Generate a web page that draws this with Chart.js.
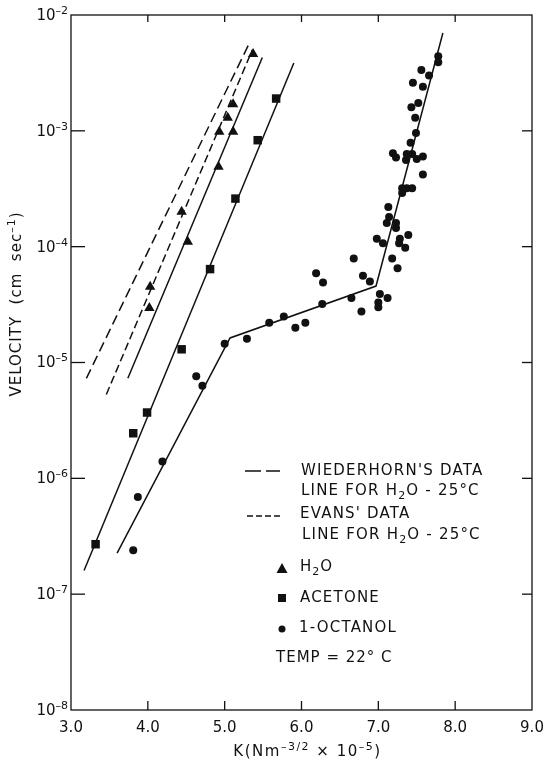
<!DOCTYPE html>
<html>
<head>
<meta charset="utf-8">
<script src="https://cdn.jsdelivr.net/npm/chart.js@4.4.1/dist/chart.umd.min.js"></script>
<style>
  html, body { margin: 0; background: #fff; }
</style>
</head>
<body>
<canvas id="chart" width="547" height="767"></canvas>
<script>
// Crack velocity vs stress intensity
const xTicks = [3, 4, 5, 6, 7, 8, 9];
const yTicks = [-2, -3, -4, -5, -6, -7, -8];

const h2oK = [5.37, 5.11, 5.04, 4.93, 5.11, 4.92, 4.44, 4.52, 4.03, 4.02];
const h2oV = [4.6e-3, 1.7e-3, 1.3e-3, 9.8e-4, 9.8e-4, 4.9e-4, 2.0e-4, 1.1e-4, 4.5e-5, 2.95e-5];

const acetoneK = [5.67, 5.43, 5.14, 4.81, 4.44, 3.99, 3.81, 3.32];
const acetoneV = [1.9e-3, 8.3e-4, 2.6e-4, 6.4e-5, 1.3e-5, 3.7e-6, 2.45e-6, 2.7e-7];

const octanolK = [3.81, 3.87, 4.19, 4.63, 4.71, 5.00, 5.29, 5.58, 5.77, 5.92, 6.05, 6.19, 6.27, 6.28,
  6.65, 6.68, 6.78, 6.80, 6.89, 6.98, 7.00, 7.00, 7.02, 7.06, 7.11, 7.12, 7.13, 7.14, 7.18, 7.19,
  7.23, 7.23, 7.23, 7.25, 7.27, 7.28, 7.31, 7.31, 7.35, 7.36, 7.37, 7.37, 7.39, 7.42, 7.43, 7.44,
  7.44, 7.45, 7.48, 7.49, 7.50, 7.52, 7.56, 7.58, 7.58, 7.58, 7.66, 7.78, 7.78];
const octanolV = [2.4e-7, 6.9e-7, 1.4e-6, 7.6e-6, 6.3e-6, 1.45e-5, 1.6e-5, 2.2e-5, 2.5e-5, 2.0e-5, 2.2e-5, 5.9e-5, 3.2e-5, 4.9e-5,
  3.6e-5, 7.9e-5, 2.75e-5, 5.6e-5, 5.0e-5, 1.17e-4, 3.3e-5, 3.0e-5, 3.9e-5, 1.07e-4, 1.6e-4, 3.6e-5, 2.2e-4, 1.8e-4, 7.9e-5, 6.4e-4,
  5.9e-4, 1.6e-4, 1.45e-4, 6.5e-5, 1.07e-4, 1.17e-4, 3.2e-4, 2.9e-4, 9.8e-5, 5.6e-4, 6.3e-4, 3.2e-4, 1.26e-4, 7.9e-4, 1.6e-3, 6.3e-4,
  3.2e-4, 2.6e-3, 1.3e-3, 9.6e-4, 5.7e-4, 1.74e-3, 3.35e-3, 2.4e-3, 6.0e-4, 4.2e-4, 3.0e-3, 4.4e-3, 3.9e-3];

// fitted lines
const wiederhornK = [3.20, 5.32];
const wiederhornV = [7.3e-6, 5.7e-3];
const evansK = [3.46, 5.36];
const evansV = [5.3e-6, 5.0e-3];
const h2oFitK = [3.74, 5.49];
const h2oFitV = [7.3e-6, 4.3e-3];
const acetoneFitK = [3.17, 5.90];
const acetoneFitV = [1.6e-7, 3.85e-3];
const octanolFitK = [3.60, 5.07, 6.97, 7.84];
const octanolFitV = [2.26e-7, 1.63e-5, 4.57e-5, 7.0e-3];

const INK = '#111';
const FONT = '"DejaVu Sans", sans-serif';

function pts(xs, ys) {
  return xs.map((x, i) => ({ x: x, y: ys[i] }));
}

function fitLine(xs, ys, dash) {
  return {
    data: pts(xs, ys),
    showLine: true,
    borderColor: INK,
    borderWidth: 1.5,
    borderDash: dash,
    pointRadius: 0,
    fill: false
  };
}

function marks(xs, ys, style, r) {
  return {
    data: pts(xs, ys),
    pointStyle: style,
    pointRadius: r,
    pointBackgroundColor: INK,
    pointBorderColor: INK,
    pointBorderWidth: 0,
    showLine: false
  };
}

// text with super/subscripts: parts are [text, kind] (0 normal, 1 sup, 2 sub)
function rich(ctx, parts, x, y, align, spacing) {
  const fonts = ['15px ' + FONT, '11px ' + FONT, '11px ' + FONT];
  const dy = [0, -5, 5];
  ctx.letterSpacing = (spacing || 0) + 'px';
  let w = 0;
  parts.forEach(p => { ctx.font = fonts[p[1]]; w += ctx.measureText(p[0]).width; });
  let cx = align === 'right' ? x - w : align === 'center' ? x - w / 2 : x;
  ctx.textAlign = 'left';
  ctx.textBaseline = 'middle';
  parts.forEach(p => {
    ctx.font = fonts[p[1]];
    ctx.fillText(p[0], cx, y + dy[p[1]]);
    cx += ctx.measureText(p[0]).width;
  });
  ctx.letterSpacing = '0px';
}

function seg(ctx, x1, y1, x2, y2) {
  ctx.beginPath();
  ctx.moveTo(x1, y1);
  ctx.lineTo(x2, y2);
  ctx.stroke();
}

const frame = {
  id: 'frame',
  afterDraw(chart) {
    const ctx = chart.ctx;
    const a = chart.chartArea;
    const xs = chart.scales.x, ys = chart.scales.y;
    ctx.save();
    ctx.strokeStyle = INK;
    ctx.fillStyle = INK;
    ctx.lineWidth = 1.3;
    ctx.strokeRect(a.left, a.top, a.right - a.left, a.bottom - a.top);

    // x ticks and labels
    xTicks.forEach(v => {
      const px = xs.getPixelForValue(v);
      if (v > xTicks[0] && v < xTicks[xTicks.length - 1]) {
        seg(ctx, px, a.bottom, px, a.bottom - 9);
        seg(ctx, px, a.top, px, a.top + 7);
      }
      rich(ctx, [[v.toFixed(1), 0]], px, a.bottom + 18, 'center');
    });

    // y ticks and labels (decades)
    yTicks.forEach(e => {
      const py = ys.getPixelForValue(Math.pow(10, e));
      if (e < yTicks[0] && e > yTicks[yTicks.length - 1]) {
        seg(ctx, a.left, py, a.left + 14, py);
        seg(ctx, a.right, py, a.right - 10, py);
      }
      rich(ctx, [['10', 0], ['\u2013' + (-e), 1]], a.left - 3, py + 1, 'right');
    });

    // axis titles
    rich(ctx, [['K(Nm', 0], ['\u2013' + '3/2', 1], [' \u00d7 10', 0], ['\u20135', 1], [')', 0]],
      (a.left + a.right) / 2 + 6, a.bottom + 42, 'center', 1.5);
    ctx.save();
    ctx.translate(17, 304);
    ctx.rotate(-Math.PI / 2);
    rich(ctx, [['VELOCITY  (cm  sec', 0], ['\u20131', 1], [')', 0]], 0, 0, 'center', 1);
    ctx.restore();

    // legend
    ctx.lineWidth = 1.5;
    ctx.setLineDash([16, 5]);
    seg(ctx, 245, 471, 280, 471);
    ctx.setLineDash([6, 3]);
    seg(ctx, 247, 516, 280, 516);
    ctx.setLineDash([]);
    rich(ctx, [["WIEDERHORN'S DATA", 0]], 301, 471, 'left', 1.2);
    rich(ctx, [['LINE FOR H', 0], ['2', 2], ['O - 25\u00b0C', 0]], 301, 491, 'left', 1.2);
    rich(ctx, [["EVANS' DATA", 0]], 300, 514, 'left', 1.2);
    rich(ctx, [['LINE FOR H', 0], ['2', 2], ['O - 25\u00b0C', 0]], 302, 535, 'left', 1.2);

    ctx.beginPath();
    ctx.moveTo(282, 563); ctx.lineTo(287.5, 573); ctx.lineTo(276.5, 573); ctx.closePath(); ctx.fill();
    rich(ctx, [['H', 0], ['2', 2], ['O', 0]], 300, 567, 'left', 1);
    ctx.fillRect(278, 594, 8, 8);
    rich(ctx, [['ACETONE', 0]], 300, 598, 'left', 1.2);
    ctx.beginPath(); ctx.arc(282, 629, 3.5, 0, Math.PI * 2); ctx.fill();
    rich(ctx, [['1-OCTANOL', 0]], 299, 628, 'left', 1.2);
    rich(ctx, [['TEMP = 22\u00b0 C', 0]], 276, 658, 'left', 1);
    ctx.restore();
  }
};

new Chart(document.getElementById('chart'), {
  type: 'scatter',
  data: {
    datasets: [
      marks(h2oK, h2oV, 'triangle', 6),
      marks(acetoneK, acetoneV, 'rect', 6),
      marks(octanolK, octanolV, 'circle', 4),
      fitLine(wiederhornK, wiederhornV, [10, 5]),
      fitLine(evansK, evansV, [8, 4]),
      fitLine(h2oFitK, h2oFitV, []),
      fitLine(acetoneFitK, acetoneFitV, []),
      fitLine(octanolFitK, octanolFitV, [])
    ]
  },
  options: {
    responsive: false,
    animation: false,
    layout: { padding: { left: 71, right: 15, top: 15, bottom: 57 } },
    plugins: { legend: { display: false }, tooltip: { enabled: false } },
    scales: {
      x: { type: 'linear', min: 3, max: 9, display: false },
      y: { type: 'logarithmic', min: 1e-8, max: 1e-2, display: false }
    }
  },
  plugins: [frame]
});
</script>
</body>
</html>
